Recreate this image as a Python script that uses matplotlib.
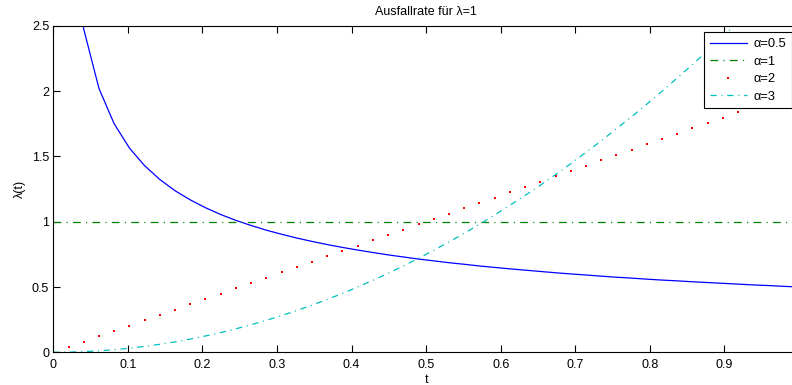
import numpy as np
import matplotlib
matplotlib.use("Agg")
import matplotlib.pyplot as plt

plt.rcParams["font.family"] = ["Liberation Sans", "DejaVu Sans"]

# ── Data: Weibull failure rate for lambda = 1, sampled at 50 points on [0, 1] ──
t = [0.0, 0.0204, 0.0408, 0.0612, 0.0816, 0.1020, 0.1224, 0.1429, 0.1633, 0.1837,
     0.2041, 0.2245, 0.2449, 0.2653, 0.2857, 0.3061, 0.3265, 0.3469, 0.3673, 0.3878,
     0.4082, 0.4286, 0.4490, 0.4694, 0.4898, 0.5102, 0.5306, 0.5510, 0.5714, 0.5918,
     0.6122, 0.6327, 0.6531, 0.6735, 0.6939, 0.7143, 0.7347, 0.7551, 0.7755, 0.7959,
     0.8163, 0.8367, 0.8571, 0.8776, 0.8980, 0.9184, 0.9388, 0.9592, 0.9796, 1.0]

rate_a05 = [np.nan, 3.500, 2.475, 2.021, 1.750, 1.565, 1.429, 1.323, 1.237, 1.167,
            1.107, 1.055, 1.010, 0.971, 0.935, 0.904, 0.875, 0.849, 0.825, 0.803,
            0.783, 0.764, 0.746, 0.730, 0.714, 0.700, 0.686, 0.674, 0.661, 0.650,
            0.639, 0.629, 0.619, 0.609, 0.600, 0.592, 0.583, 0.575, 0.568, 0.560,
            0.553, 0.547, 0.540, 0.534, 0.528, 0.522, 0.516, 0.511, 0.505, 0.500]

rate_a1 = [1.0, 1.0, 1.0, 1.0, 1.0, 1.0, 1.0, 1.0, 1.0, 1.0,
           1.0, 1.0, 1.0, 1.0, 1.0, 1.0, 1.0, 1.0, 1.0, 1.0,
           1.0, 1.0, 1.0, 1.0, 1.0, 1.0, 1.0, 1.0, 1.0, 1.0,
           1.0, 1.0, 1.0, 1.0, 1.0, 1.0, 1.0, 1.0, 1.0, 1.0,
           1.0, 1.0, 1.0, 1.0, 1.0, 1.0, 1.0, 1.0, 1.0, 1.0]

rate_a2 = [0.000, 0.041, 0.082, 0.122, 0.163, 0.204, 0.245, 0.286, 0.327, 0.367,
           0.408, 0.449, 0.490, 0.531, 0.571, 0.612, 0.653, 0.694, 0.735, 0.776,
           0.816, 0.857, 0.898, 0.939, 0.980, 1.020, 1.061, 1.102, 1.143, 1.184,
           1.224, 1.265, 1.306, 1.347, 1.388, 1.429, 1.469, 1.510, 1.551, 1.592,
           1.633, 1.673, 1.714, 1.755, 1.796, 1.837, 1.878, 1.918, 1.959, 2.000]

rate_a3 = [0.000, 0.001, 0.005, 0.011, 0.020, 0.031, 0.045, 0.061, 0.080, 0.101,
           0.125, 0.151, 0.180, 0.211, 0.245, 0.281, 0.320, 0.361, 0.405, 0.451,
           0.500, 0.551, 0.605, 0.661, 0.720, 0.781, 0.845, 0.911, 0.980, 1.051,
           1.125, 1.201, 1.279, 1.361, 1.444, 1.531, 1.619, 1.711, 1.804, 1.900,
           1.999, 2.100, 2.204, 2.310, 2.419, 2.530, 2.644, 2.760, 2.879, 3.000]

labels = ["α=0.5", "α=1", "α=2", "α=3"]

# ── Figure ─────────────────────────────────────────────────────────────────────
W, H = 792, 385
fig = plt.figure(figsize=(W / 100, H / 100), dpi=100)
# axes run slightly past the right edge of the canvas
ax = fig.add_axes([53.3 / W, 1 - 352.3 / H, (799 - 53.3) / W, (352.3 - 25.8) / H])

LW = 0.9
ax.plot(t, rate_a05, color="#0000ff", lw=LW, label=labels[0])
ax.plot(t, rate_a1, color="#008000", lw=LW,
        dashes=(5.6 / LW, 3.8 / LW, 0.8 / LW, 3.8 / LW), label=labels[1])
ax.plot(t, rate_a2, color="#ff0000", ls="none", marker="s", ms=2.0, mew=0,
        label=labels[2])
ax.plot(t, rate_a3, color="#00bfbf", lw=LW,
        dashes=(4.5 / LW, 3.4 / LW, 0.8 / LW, 3.4 / LW), label=labels[3])

ax.set_xlim(0, 1)
ax.set_ylim(0, 2.5)
ax.set_xticks(np.arange(0, 1.0, 0.1))
ax.set_xticklabels(["0", "0.1", "0.2", "0.3", "0.4", "0.5", "0.6", "0.7", "0.8", "0.9"])
ax.set_yticks([0, 0.5, 1, 1.5, 2, 2.5])
ax.set_yticklabels(["0", "0.5", "1", "1.5", "2", "2.5"])
ax.tick_params(direction="in", length=5, width=0.8, top=True, right=True,
               labelsize=9)
ax.tick_params(axis="x", pad=4.5)
ax.tick_params(axis="y", pad=3)
for sp in ax.spines.values():
    sp.set_linewidth(0.8)

ax.set_title("Ausfallrate für λ=1", fontsize=9, pad=8)
ax.set_xlabel("t", fontsize=9, labelpad=2.5)
ax.set_ylabel("λ(t)", fontsize=9, labelpad=4)

leg = ax.legend(loc="upper right", bbox_to_anchor=(792 / W, 1 - 32.3 / H),
                bbox_transform=fig.transFigure, borderaxespad=0,
                fontsize=9.3, frameon=True, fancybox=False, framealpha=1,
                edgecolor="black", handlelength=2.9, handletextpad=0.5,
                labelspacing=0.42, borderpad=0.45, numpoints=1)
leg.get_frame().set_linewidth(0.8)

fig.savefig("out.png", dpi=100)
